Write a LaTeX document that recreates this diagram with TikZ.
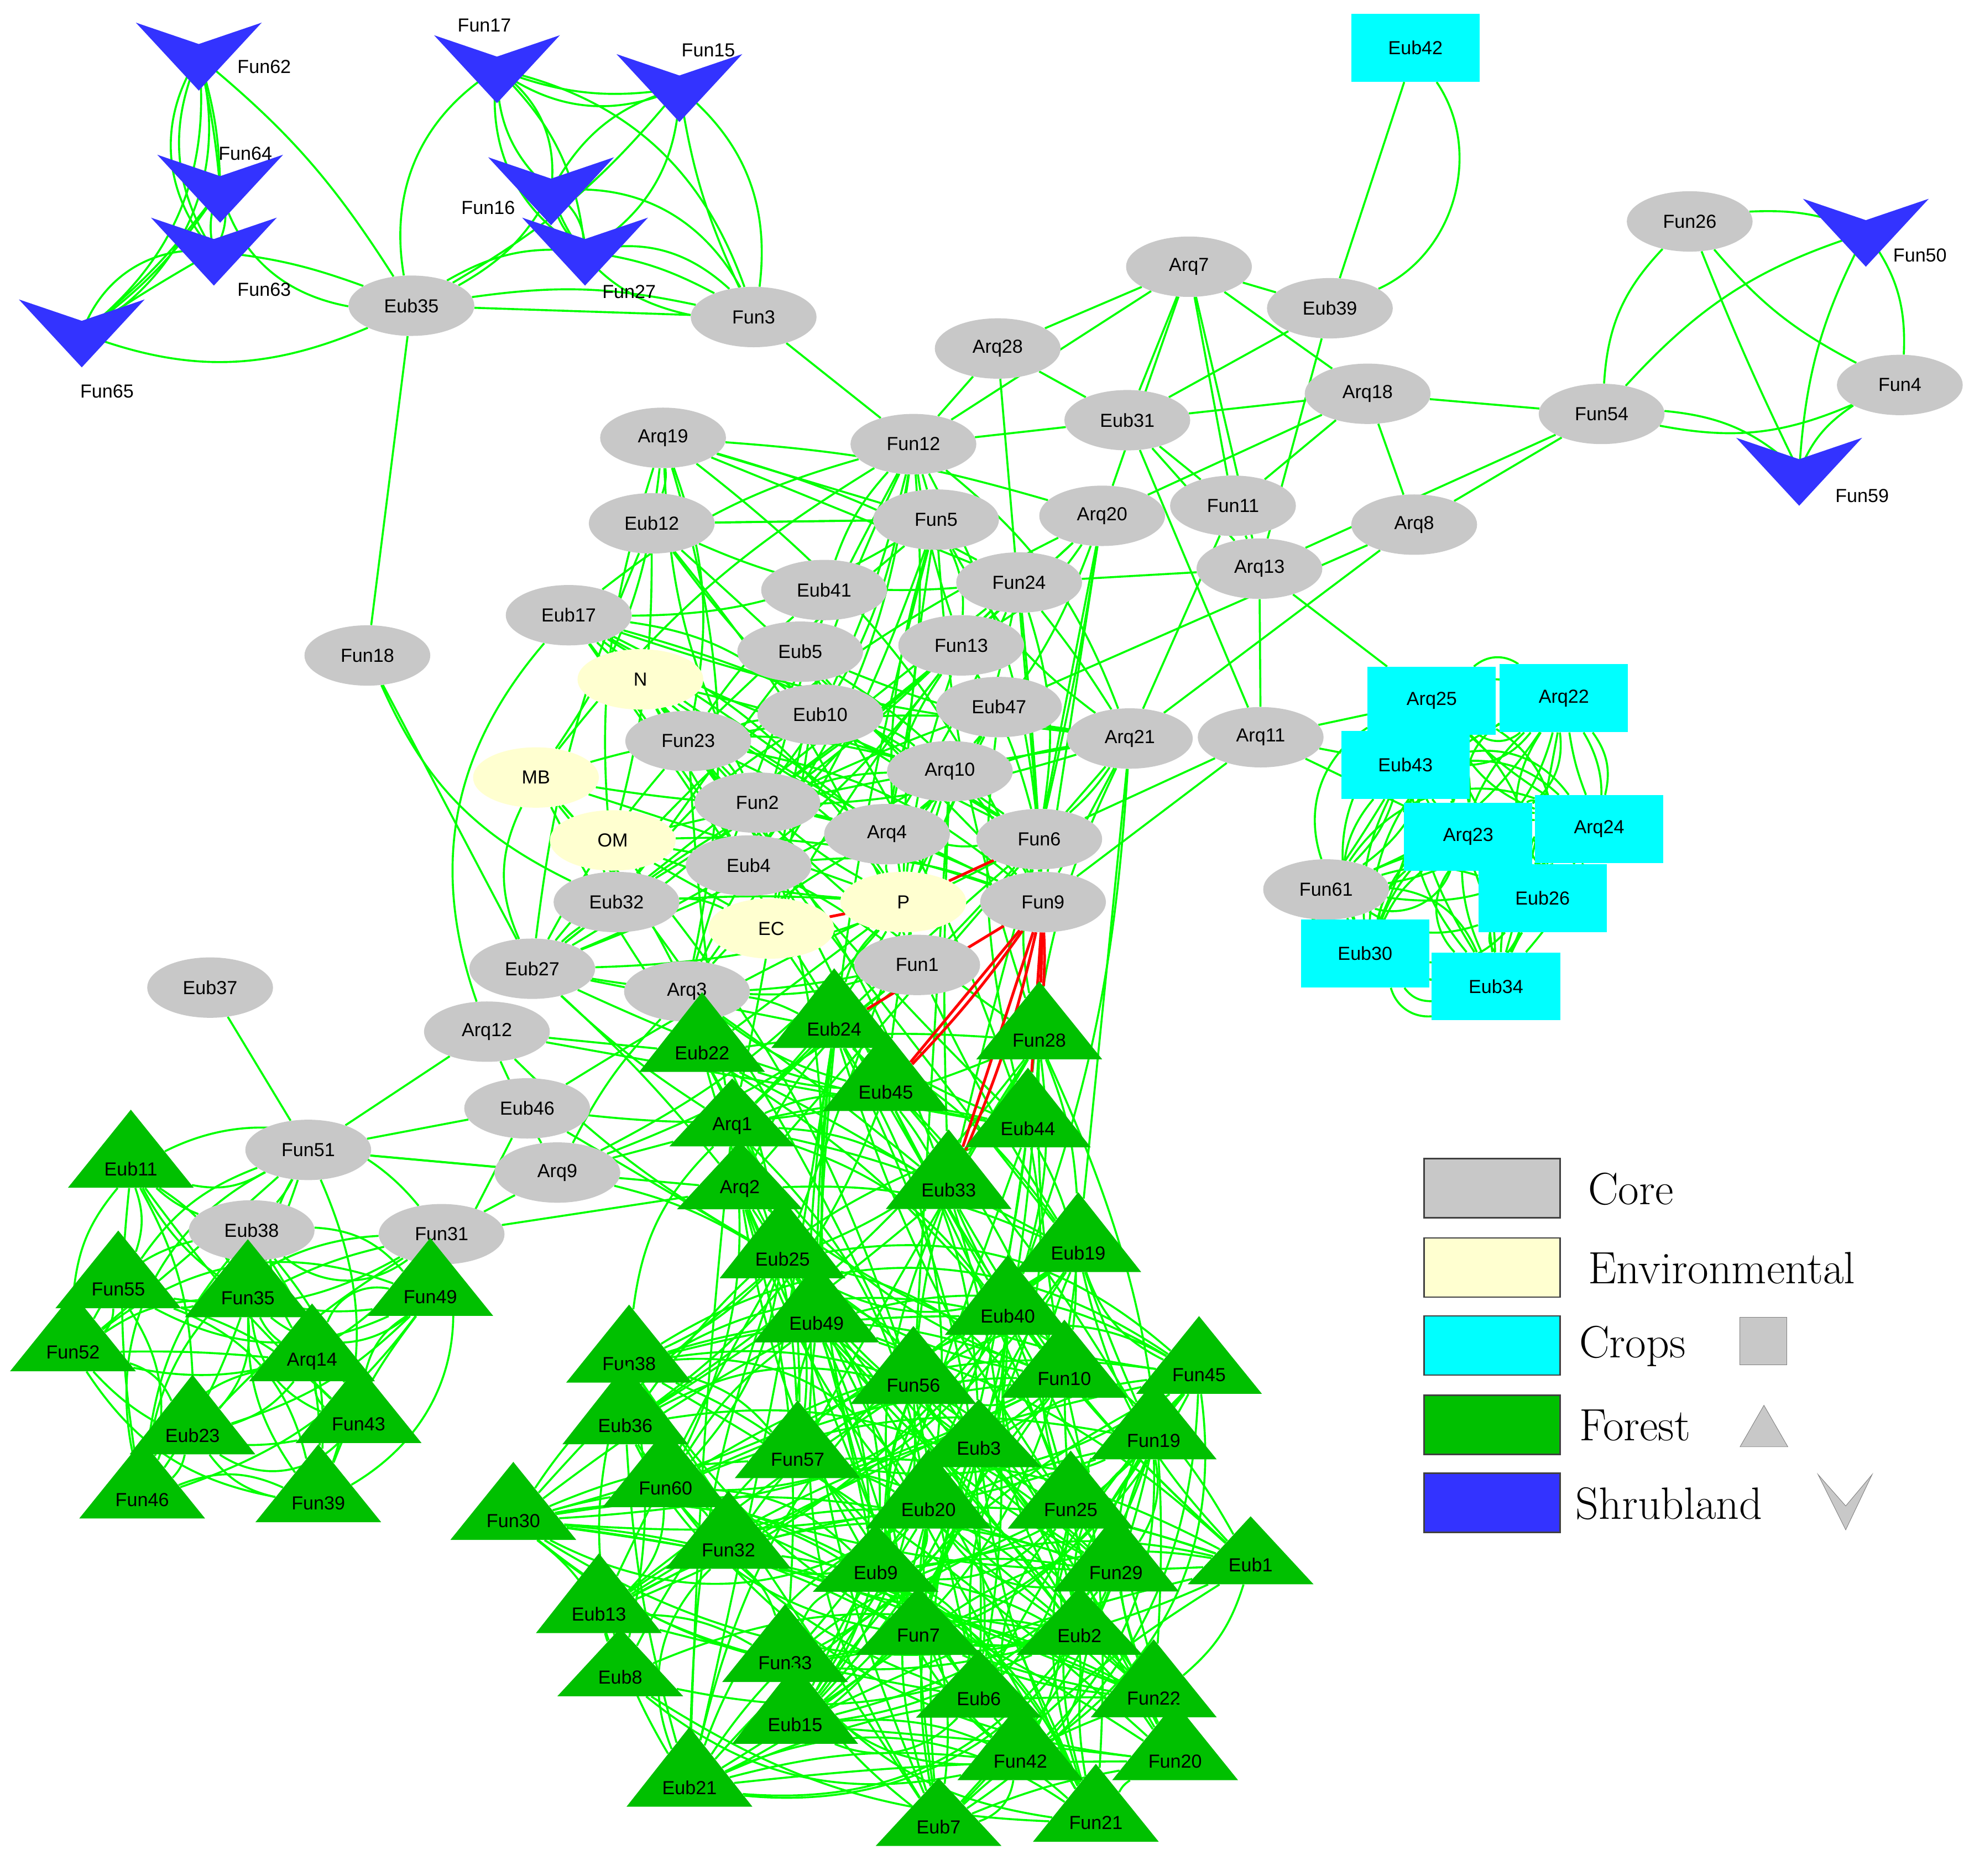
\documentclass[tikz,border=0pt]{standalone}
\usepackage{fontspec}
\setsansfont{Liberation Sans}
\usetikzlibrary{shapes.geometric,backgrounds}
\definecolor{coreC}{RGB}{200,200,200}
\definecolor{envC}{RGB}{255,255,208}
\definecolor{cropC}{RGB}{0,255,255}
\definecolor{forC}{RGB}{0,192,0}
\definecolor{shrC}{RGB}{51,51,255}
\definecolor{edgeC}{RGB}{0,255,0}
\newcommand\mycluster[3]{%
 \foreach \a [count=\i] in {#1}{\foreach \b [count=\j] in {#1}{%
  \ifnum\j>\i \pgfmathrandominteger{\r}{1}{100}\ifnum\r<#2
   \pgfmathrandominteger{\bb}{-#3}{#3}\draw[edge] (\a) to[bend left=\bb] (\b);\fi\fi}}}
\newcommand\mycross[4]{%
 \foreach \a in {#1}{\foreach \b in {#2}{%
  \pgfmathrandominteger{\r}{1}{100}\ifnum\r<#3
   \pgfmathrandominteger{\bb}{-#4}{#4}\draw[edge] (\a) to[bend left=\bb] (\b);\fi}}}
\begin{document}
\begin{tikzpicture}[x=1pt,y=-1pt,
 lab/.style={font=\sffamily\fontsize{15}{17}\selectfont},
 core/.style={lab,ellipse,fill=coreC,minimum width=100,minimum height=48,inner sep=0},
 envn/.style={core,fill=envC},
 crop/.style={lab,rectangle,fill=cropC,minimum width=102,minimum height=54,inner sep=0},
 forn/.style={lab,isosceles triangle,shape border rotate=90,isosceles triangle stretches,fill=forC,minimum width=100,minimum height=54,inner sep=0},
 edge/.style={edgeC,line width=1.6},
 redge/.style={red,line width=2.2}]
\useasboundingbox (0,0) rectangle (1565,1491);
\pgfmathsetseed{7}
% core
\foreach \n/\x/\y in {Eub35/327/243,Fun3/599/252,Arq7/945/212,Eub39/1057/245,Arq28/793/277,Fun26/1343/176,Fun4/1510/306,Fun54/1273/329,Arq18/1087/313,Eub31/896/334,Fun12/726/353,Arq19/527/348,Eub12/518/416,Fun5/744/413,Arq20/876/410,Fun11/980/402,Arq8/1124/417,Arq13/1001/452,Eub41/655/469,Fun24/810/463,Eub17/452/489,Fun18/292/521,Eub5/636/518,Fun13/764/513,Eub10/652/568,Eub47/794/562,Fun23/547/589,Arq21/898/587,Arq11/1002/586,Arq10/755/613,Fun2/602/638,Arq4/705/663,Fun6/826/667,Eub4/595/688,Fun9/829/717,Eub32/490/717,Fun1/729/767,Eub27/423/770,Arq3/546/788,Eub37/167/785,Arq12/387/820,Eub46/419/881,Fun51/245/914,Arq9/443/932,Eub38/200/978,Fun31/351/981,Fun61/1054/707}
 \node[core] (\n) at (\x,\y) {\n};
\foreach \n/\x/\y in {N/509/540,MB/426/618,OM/487/668,EC/613/738,P/718/717}
 \node[envn] (\n) at (\x,\y) {\n};
\foreach \n/\x/\y in {Eub42/1125/38,Arq25/1138/557,Arq22/1243/555,Eub43/1117/608,Arq23/1167/665,Arq24/1271/659,Eub26/1226/714,Eub30/1085/758,Eub34/1189/784}
 \node[crop] (\n) at (\x,\y) {\n};
\foreach \n/\x/\y in {Eub24/663/818,Eub22/558/837,Fun28/826/827,Eub45/704/868,Eub44/817/897,Arq1/582/895,Arq2/588/945,Eub33/754/946,Eub11/104/929,Eub25/622/1001,Eub19/857/996,Fun55/94/1025,Fun35/197/1032,Fun49/342/1031,Eub49/649/1052,Eub40/801/1046,Fun52/58/1075,Arq14/248/1082,Fun38/500/1084,Fun56/726/1101,Fun10/846/1096,Fun45/953/1093,Fun43/285/1132,Eub36/497/1133,Eub3/778/1151,Fun19/917/1145,Eub23/153/1141,Fun57/634/1160,Fun60/529/1183,Fun46/113/1192,Fun39/253/1195,Fun30/408/1209,Eub20/738/1200,Fun25/851/1200,Fun32/579/1232,Eub9/696/1250,Fun29/887/1250,Eub1/994/1244,Eub13/476/1283,Fun7/730/1300,Eub2/858/1300,Fun33/624/1322,Eub8/493/1333,Eub6/778/1350,Fun22/917/1350,Eub15/632/1371,Fun42/811/1400,Fun20/934/1400,Eub21/548/1421,Eub7/746/1452,Fun21/871/1449}
 \node[forn] (\n) at (\x,\y) {\n};
\foreach \n/\x/\y/\lx/\ly in {Fun62/158/45/210/53,Fun64/175/150/195/122,Fun63/170/200/210/230,Fun65/65/265/85/311,Fun17/395/55/385/20,Fun15/540/70/563/40,Fun16/438/152/388/165,Fun27/465/200/500/232,Fun50/1483/185/1526/203,Fun59/1430/375/1480/394}{
 \coordinate (\n) at (\x,\y);
 \fill[shrC,shift={(\x,\y)}] (-50,-27) -- (0,-10) -- (50,-27) -- (0,27) -- cycle;
 \node[lab] at (\lx,\ly) {\n};}
% legend
\foreach \t/\c/\y/\tx in {Core/coreC/921/1262,Environmental/envC/984/1262,Crops/cropC/1046/1255,Forest/forC/1109/1255,Shrubland/shrC/1171/1252}{
 \draw[fill=\c,draw=black!75,line width=1.2] (1132,\y) rectangle (1240,\y+47);
 \node[anchor=west,font=\fontsize{36}{40}\selectfont,inner sep=0] at (\tx,\y+24) {\t};}
\draw[fill=coreC,draw=gray] (1383,1047) rectangle (1420,1085);
\draw[fill=coreC,draw=gray] (1383,1150) -- (1402,1117) -- (1421,1150) -- cycle;
\draw[fill=coreC,draw=gray] (1445,1172) -- (1467,1197) -- (1488,1172) -- (1467,1216) -- cycle;
\begin{pgfonlayer}{background}
\mycluster{Fun62,Fun64,Fun63,Fun65,Eub35}{100}{40}
\mycluster{Fun62,Fun64,Fun63,Fun65}{100}{-40}
\mycluster{Fun17,Fun15,Fun16,Fun27,Eub35,Fun3}{95}{35}
\mycluster{Fun17,Fun15,Fun16,Fun27,Fun3}{70}{-30}
\mycluster{Fun26,Fun50,Fun4,Fun59,Fun54}{100}{20}
\mycluster{Arq25,Arq22,Eub43,Arq23,Arq24,Eub26,Eub30,Eub34,Fun61}{100}{40}
\mycluster{Arq25,Arq22,Eub43,Arq23,Arq24,Eub26,Eub30,Eub34,Fun61}{90}{-45}
\mycluster{Eub12,Fun5,Eub41,Fun24,Eub17,Eub5,Fun13,Eub10,Eub47,Fun23,Arq10,Fun2,Arq4,Fun6,Eub4,Fun9,Eub32,Fun1,N,MB,OM,EC,P,Arq21,Eub27,Arq3,Fun12,Arq19,Arq20}{32}{15}
\mycluster{Eub24,Eub22,Fun28,Eub45,Eub44,Arq1,Arq2,Eub33,Eub25,Eub19,Eub46,Arq9,Arq12,Eub27,Arq3,Fun1,EC,P,Fun6}{30}{15}
\mycluster{Eub11,Fun55,Fun35,Fun49,Fun52,Arq14,Fun43,Eub23,Fun46,Fun39,Eub38,Fun51,Fun31}{75}{40}
\mycluster{Eub25,Eub19,Eub49,Eub40,Fun38,Fun56,Fun10,Fun45,Eub36,Eub3,Fun19,Fun57,Fun60,Fun30,Eub20,Fun25,Fun32,Eub9,Fun29,Eub1,Eub13,Fun7,Eub2,Fun33,Eub8,Eub6,Fun22,Eub15,Fun42,Fun20,Eub21,Eub7,Fun21}{42}{35}
\mycross{Eub12,Fun5,Eub17,N,MB,OM,Fun23,Eub5,Eub10,Fun13,Eub47,Fun2,Arq10,Arq21}{Eub24,Eub22,Arq1,Arq2,Eub45,Eub33,Eub44,Fun28,Eub25,Eub19,Eub49,Eub40,Fun56}{13}{10}
\mycross{Eub24,Eub22,Fun28,Eub45,Eub44,Arq1,Arq2,Eub33}{Eub25,Eub19,Eub49,Eub40,Fun38,Fun56,Fun10,Fun45,Eub36,Eub3,Fun19,Fun57,Fun60,Eub20,Fun25,Fun32,Eub9,Fun29,Eub1,Fun7,Eub2,Fun33,Eub6,Fun22,Eub21,Eub7,Fun21}{22}{20}
\foreach \a/\b in {Eub35/Fun3,Eub35/Fun18,Fun3/Fun12,Fun18/Eub27,Eub42/Eub39,Arq7/Eub39,Arq7/Eub31,Arq7/Fun11,Arq7/Arq20,Arq7/Arq18,Arq7/Fun12,Arq7/Arq13,Eub39/Eub31,Eub39/Arq13,Arq28/Fun12,Arq28/Eub31,Arq28/Fun6,Arq28/Arq7,Arq18/Fun11,Arq18/Eub31,Arq18/Arq8,Arq18/Arq20,Arq18/Fun54,Fun54/Arq8,Fun54/Arq13,Eub31/Fun11,Eub31/Arq13,Eub31/Fun12,Fun12/Fun5,Arq19/Fun5,Arq19/Fun24,Eub12/Fun5,Fun11/Arq13,Fun11/Arq21,Arq13/Fun24,Arq13/Arq11,Arq13/Arq25,Arq20/Fun6,Arq20/Fun9,Arq20/Fun13,Arq8/Eub47,Arq8/Arq21,Arq11/Fun9,Arq11/Fun6,Arq11/Arq25,Arq11/Eub43,Arq11/Arq23,Arq11/Eub31,Arq21/Fun9,Eub37/Fun51,Arq12/Fun51,Fun51/Arq9,Fun51/Arq2,Fun51/Eub46,Fun31/Arq2,Fun31/Arq9,Eub46/Fun49,Arq9/Arq1,Arq12/Eub22,Eub27/Eub24,Arq12/Eub44}
 \draw[edge] (\a) -- (\b);
\draw[edge] (Eub42) to[bend left=50] (Eub39);
\draw[edge] (Fun18) to[bend right=20] (Eub32);
\draw[edge] (MB) to[bend right=25] (Eub27);
\draw[edge] (Eub17) to[bend right=30] (Arq12);
\foreach \a/\b/\bb in {Fun9/Eub24/0,Fun9/Eub45/0,Fun9/Eub45/4,Fun9/Eub33/0,Fun9/Eub33/5,Fun9/Fun28/0,Fun9/Fun28/3,Fun9/Eub44/0,Fun6/P/0,EC/P/0}
 \draw[redge] (\a) to[bend left=\bb] (\b);
\end{pgfonlayer}
\end{tikzpicture}
\end{document}
